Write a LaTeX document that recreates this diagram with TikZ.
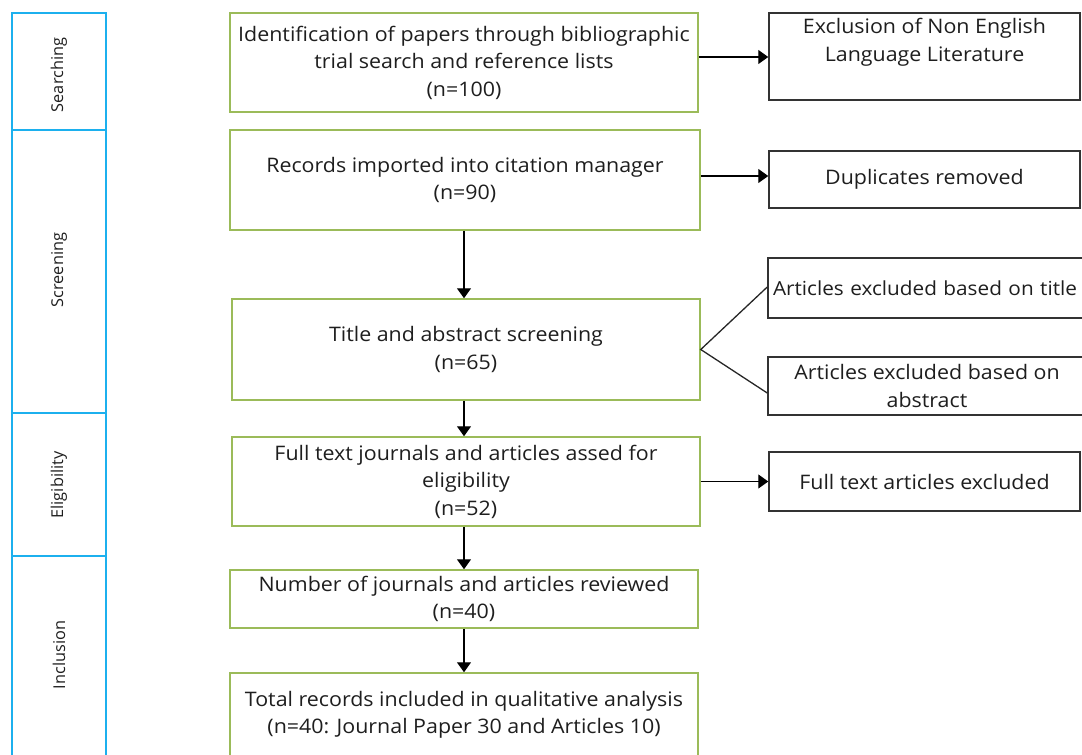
\documentclass[tikz,border=0pt]{standalone}
\usepackage{fontspec}
\setmainfont{Open Sans}
\newfontfamily\boxfont{Open Sans}[FakeStretch=1.07]
\usetikzlibrary{arrows.meta}
\definecolor{grn}{HTML}{9BBB59}
\definecolor{sky}{HTML}{1CB0EE}
\definecolor{txt}{HTML}{1E1E1E}
\begin{document}
\begin{tikzpicture}[x=1pt,y=-1pt,
  greenbox/.style={draw=grn, line width=1.5pt, align=center, inner sep=0pt, text=txt, font=\boxfont\fontsize{20}{27.5}\selectfont},
  blackbox/.style={draw=black!80, line width=1.5pt, align=center, inner sep=0pt, text=txt, font=\boxfont\fontsize{20}{27.5}\selectfont},
  plain/.style={align=center, inner sep=0pt, text=txt, font=\boxfont\fontsize{20}{27.5}\selectfont},
  phase/.style={draw=sky, line width=1.8pt, inner sep=0pt},
  phaselabel/.style={rotate=90, inner sep=0pt, text=txt, font=\fontsize{16.3}{18}\selectfont},
  arr/.style={draw=black, line width=1.3pt, -{Triangle[width=14pt,length=10pt]}},
  link/.style={draw=black!85, line width=1.3pt}]
\useasboundingbox (0,0) rectangle (1082,755);
% phase bar
\node[phase, minimum width=94, minimum height=117] (ph1) at (59,71.5) {};
\node[phase, minimum width=94, minimum height=283] (ph2) at (59,271.5) {};
\node[phase, minimum width=94, minimum height=143] (ph3) at (59,484.5) {};
\node[phase, minimum width=94, minimum height=210] (ph4) at (59,661) {};
\node[phaselabel] (l1) at (59,75) {Searching};
\node[phaselabel] (l2) at (59,270) {Screening};
\node[phaselabel] (l3) at (59,485) {Eligibility};
\node[phaselabel] (l4) at (59,655) {Inclusion};
% main boxes
\node[greenbox, minimum width=468, minimum height=99] (b1) at (464,62.5) {Identification of papers through bibliographic\\trial search and reference lists\\(n=100)};
\node[greenbox, minimum width=470, minimum height=100] (b2) at (465,180) {Records imported into citation manager\\(n=90)};
\node[greenbox, minimum width=468, minimum height=101] (b3) at (466,349.5) {Title and abstract screening\\(n=65)};
\node[greenbox, minimum width=468, minimum height=89] (b4) at (466,481.5) {Full text journals and articles assed for\\eligibility\\(n=52)};
\node[greenbox, minimum width=468, minimum height=58] (b5) at (464,599) {Number of journals and articles reviewed\\(n=40)};
\node[greenbox, minimum width=468, minimum height=84] (b6) at (464,715) {Total records included in qualitative analysis\\(n=40: Journal Paper 30 and Articles 10)};
% exclusion boxes
\node[blackbox, minimum width=311, minimum height=87] (eA) at (924.5,56.5) {};
\node[plain] (eAt) at (924.5,42) {Exclusion of Non English\\Language Literature};
\node[blackbox, minimum width=311, minimum height=57] (eB) at (924.5,179.5) {Duplicates removed};
\node[blackbox, minimum width=322, minimum height=60, text width=322, align=left, font=\boxfont\fontsize{19.4}{27.5}\selectfont] (eC) at (929,288) {\hspace{5pt}Articles excluded based on title};
\node[blackbox, minimum width=322, minimum height=58] (eD) at (929,386) {};
\node[plain] (eDt) at (927,386) {Articles excluded based on\\abstract};
\node[blackbox, minimum width=311, minimum height=59] (eE) at (924.5,481.5) {Full text articles excluded};
% connectors
\draw[arr] (b1.east |- 0,57) -- (eA.west |- 0,57);
\draw[arr] (b2.east |- 0,176) -- (eB.west |- 0,176);
\draw[arr] (b4.east) -- (b4.east -| eE.west);
\coordinate (split) at (b3.east);
\draw[link] (eC.west |- 0,287) -- (split) -- (eD.west |- 0,393);
\draw[arr] (b2.south -| 464,0) -- (b3.north -| 464,0);
\draw[arr] (b3.south -| 464,0) -- (b4.north -| 464,0);
\draw[arr] (b4.south -| 464,0) -- (b5.north -| 464,0);
\draw[arr] (b5.south -| 464,0) -- (b6.north -| 464,0);
\end{tikzpicture}
\end{document}
